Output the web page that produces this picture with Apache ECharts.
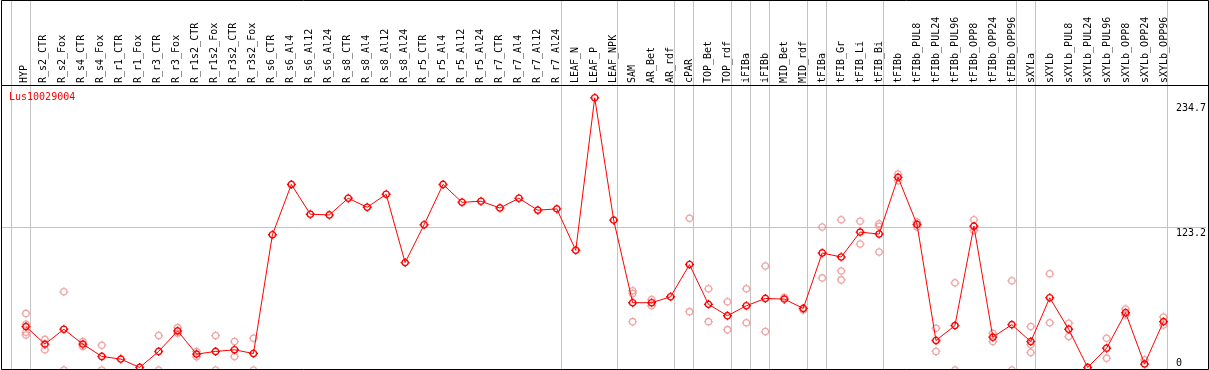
<!DOCTYPE html>
<html>
<head>
<meta charset="utf-8">
<script src="https://cdn.jsdelivr.net/npm/echarts@6/dist/echarts.min.js"></script>
<style>
html,body{margin:0;padding:0;background:#fff;}
#chart{width:1209px;height:370px;}
</style>
</head>
<body>
<div id="chart"></div>
<script>
const geneName = 'Lus10029004';
const categories = ['HYP','R_s2_CTR','R_s2_Fox','R_s4_CTR','R_s4_Fox','R_r1_CTR','R_r1_Fox','R_r3_CTR','R_r3_Fox','R_r1s2_CTR','R_r1s2_Fox','R_r3s2_CTR','R_r3s2_Fox','R_s6_CTR','R_s6_Al4','R_s6_Al12','R_s6_Al24','R_s8_CTR','R_s8_Al4','R_s8_Al12','R_s8_Al24','R_r5_CTR','R_r5_Al4','R_r5_Al12','R_r5_Al24','R_r7_CTR','R_r7_Al4','R_r7_Al12','R_r7_Al24','LEAF_N','LEAF_P','LEAF_NPK','SAM','AR_Bet','AR_rdf','cPAR','TOP_Bet','TOP_rdf','iFIBa','iFIBb','MID_Bet','MID_rdf','tFIBa','tFIB_Gr','tFIB_Li','tFIB_Bi','tFIBb','tFIBb_PUL8','tFIBb_PUL24','tFIBb_PUL96','tFIBb_OPP8','tFIBb_OPP24','tFIBb_OPP96','sXYLa','sXYLb','sXYLb_PUL8','sXYLb_PUL24','sXYLb_PUL96','sXYLb_OPP8','sXYLb_OPP24','sXYLb_OPP96'];
const means = [37.4,22.3,35.1,22.3,11.7,9.4,2.2,16.0,33.7,13.7,16.0,17.4,14.2,116.6,160.0,134.3,133.7,148.1,140.3,151.5,92.6,125.2,160.0,144.6,145.5,139.7,148.1,137.8,138.9,103.2,234.7,129.2,58.0,58.0,63.1,90.9,56.6,46.8,55.4,61.7,61.1,53.1,100.9,97.4,118.9,117.2,166.1,125.5,25.4,38.3,124.0,28.3,39.1,24.5,62.3,35.1,2.2,18.8,49.4,5.1,41.7];
const replicates = [
  [48.8,39.4,32.5,30.2],[26.4,17.4],[67.4,0],[24.5,20.2],[21.4,0],[],[],[29.7,0],[36.5,31.7],[16.0,11.4],
  [29.7,0],[24.5,11.7],[27.4,0],[],[],[],[],[],[],[],
  [],[],[],[],[],[],[],[],[],[],
  [],[],[68.3,66.0,41.7],[60.8,55.4],[],[130.9,50.3],[70.0,41.7],[58.8,34.8],[70.0,40.8],[89.7,33.1],
  [62.6],[51.7],[123.2,79.4],[129.5,85.4,77.7],[128.3,108.6],[126.0,124.0,101.7],[168.9,163.2],[127.5,123.2],[36.0,16.0],[75.2,0],
  [129.5,120.3],[31.7,24.5],[76.9,0],[37.4,21.7,15.1],[82.9,40.8],[40.3,28.8],[],[27.4,10.2],[52.5,47.4],[8.8],
  [45.7,38.8]
];
const yTickLabels = [0, 123.2, 234.7];
const gridValue = 123.2;
// separators are drawn after these categories (null = before first)
const groupEnds = [null,'HYP','R_r7_Al24','LEAF_NPK','AR_rdf','cPAR','TOP_rdf','iFIBa','iFIBb','MID_rdf','tFIBa','tFIB_Bi','tFIBb_OPP96','sXYLa','sXYLb_OPP96'];

const FONT = 'DejaVu Sans Mono';
const SEP_OFFSET = 0.21;
const symPath = 'path://M1.5,5a3.5,3.5 0 1,0 7,0a3.5,3.5 0 1,0 -7,0M5,0L5,1.5M5,8.5L5,10M0,5L1.5,5M8.5,5L10,5';

const meanData = means.map((v, i) => [i, v]);
const repData = [];
replicates.forEach((arr, i) => arr.forEach(v => repData.push([i, v])));
const sepLines = groupEnds.map(c => ({ xAxis: (c === null ? -1 : categories.indexOf(c)) + SEP_OFFSET }));

const chart = echarts.init(document.getElementById('chart'), null, { renderer: 'canvas' });
chart.setOption({
  animation: false,
  backgroundColor: '#fff',
  title: {
    text: geneName, left: 9, top: 92, padding: 0,
    textStyle: { color: '#ff0000', fontSize: 10, fontFamily: FONT, fontWeight: 'normal' }
  },
  grid: [
    { left: 1.5, top: 0.5, width: 1207, height: 371.44, containLabel: false },
    { left: 5.5, top: 0, width: 1197, height: 85.5, containLabel: false }
  ],
  xAxis: [
    { gridIndex: 0, type: 'value', min: (1.5 - 26) / 19, max: (1208.5 - 26) / 19, show: false },
    {
      gridIndex: 1, type: 'value', min: -1, max: 62, interval: 1, position: 'bottom',
      axisLine: { show: false }, axisTick: { show: false }, splitLine: { show: false },
      axisLabel: {
        inside: true, rotate: 90, margin: 2.5, color: '#000', fontSize: 10, fontFamily: FONT,
        showMinLabel: true, showMaxLabel: true,
        formatter: v => (Number.isInteger(v) && categories[v]) ? categories[v] : ''
      }
    }
  ],
  yAxis: [
    {
      gridIndex: 0, type: 'value', min: 0, max: 318.58, position: 'right',
      axisLine: { show: false }, axisTick: { show: false }, splitLine: { show: false },
      axisLabel: {
        show: true, inside: true, align: 'left', margin: 30,
        customValues: yTickLabels,
        color: '#000', fontSize: 10, fontFamily: FONT,
        formatter: v => v === 0 ? '{b|0}' : (v > 200 ? '{t|' + v + '}' : '{m|' + v + '}'),
        rich: {
          t: { fontSize: 10, fontFamily: FONT, color: '#000', padding: [21, 0, 0, 0] },
          m: { fontSize: 10, fontFamily: FONT, color: '#000', padding: [12, 0, 0, 0] },
          b: { fontSize: 10, fontFamily: FONT, color: '#000', padding: [0, 0, 14, 0] }
        }
      }
    },
    { gridIndex: 1, type: 'value', min: 0, max: 1, show: false }
  ],
  series: [
    {
      name: 'replicates', type: 'scatter', xAxisIndex: 0, yAxisIndex: 0,
      data: repData, symbol: symPath, symbolSize: 9, clip: false, z: 2,
      itemStyle: { color: 'rgba(0,0,0,0)', borderColor: '#eb9090', borderWidth: 1.3 },
      emphasis: { disabled: true }, silent: true
    },
    {
      name: 'mean', type: 'line', xAxisIndex: 0, yAxisIndex: 0,
      data: meanData, symbol: symPath, symbolSize: 9, showAllSymbol: true, clip: false, z: 3,
      lineStyle: { color: '#ff0000', width: 1 },
      itemStyle: { color: 'rgba(0,0,0,0)', borderColor: '#ff0000', borderWidth: 1.4 },
      emphasis: { disabled: true }, silent: true,
      markLine: {
        silent: true, symbol: 'none', animation: false, z: 1,
        label: { show: false },
        lineStyle: { color: '#c4c4c4', width: 1, type: 'solid' },
        emphasis: { disabled: true },
        data: sepLines.concat([{ yAxis: gridValue }])
      }
    }
  ],
  graphic: [
    { type: 'rect', z: 100, silent: true, shape: { x: 1.5, y: 0.5, width: 1207, height: 369 }, style: { fill: 'none', stroke: '#000', lineWidth: 1 } },
    { type: 'line', z: 100, silent: true, shape: { x1: 1.5, y1: 85.5, x2: 1208.5, y2: 85.5 }, style: { stroke: '#000', lineWidth: 1 } }
  ]
});
</script>
</body>
</html>
